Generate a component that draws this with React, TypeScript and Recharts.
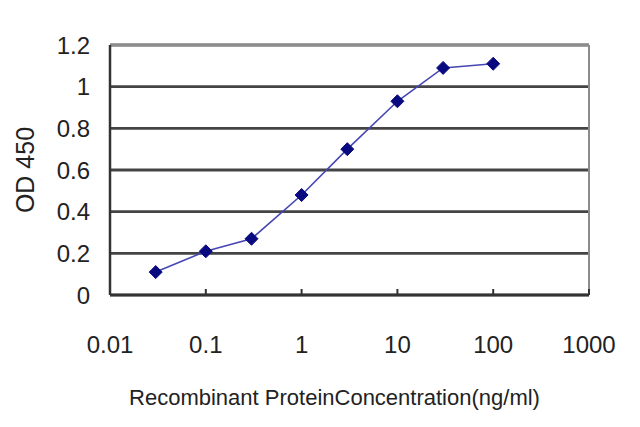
import React from 'react';
import { LineChart, Line, XAxis, YAxis, CartesianGrid, ReferenceLine, Label } from 'recharts';

const concentrations = [0.03, 0.1, 0.3, 1, 3, 10, 30, 100];
const od450 = [0.11, 0.21, 0.27, 0.48, 0.7, 0.93, 1.09, 1.11];
const xTicks = [0.01, 0.1, 1, 10, 100, 1000];
const yTicks = [0, 0.2, 0.4, 0.6, 0.8, 1, 1.2];
const xTitle = 'Recombinant ProteinConcentration(ng/ml)';
const yTitle = 'OD 450';

const data = concentrations.map((c, i) => ({ conc: c, od: od450[i] }));

const FONT = 'Liberation Sans, Arial, sans-serif';

const XTick = (props: any) => {
  const { x, y, payload } = props;
  return (
    <g>
      <line x1={x} x2={x} y1={y} y2={y - 6} stroke="#333" strokeWidth={2} />
      <text x={x} y={y + 58} textAnchor="middle" fontSize={24} fill="#222" fontFamily={FONT}>
        {String(payload.value)}
      </text>
    </g>
  );
};

const Diamond = (props: any) => {
  const { cx, cy, index } = props;
  if (cx == null || cy == null) return <g key={`d${index}`} />;
  const s = 6.5;
  return (
    <path
      key={`d${index}`}
      d={`M${cx},${cy - s}L${cx + s},${cy}L${cx},${cy + s}L${cx - s},${cy}Z`}
      fill="#0a0a80"
      stroke="#0a0a80"
    />
  );
};

export default function App() {
  return (
    <div style={{ position: 'absolute', left: 0, top: 0, width: 640, height: 427, background: '#fff' }}>
      <LineChart width={640} height={427} data={data} margin={{ top: 45, right: 51, left: 0, bottom: 0 }}>
        <CartesianGrid horizontal vertical={false} stroke="#444" strokeWidth={2.8} />
        <XAxis
          dataKey="conc"
          type="number"
          scale="log"
          domain={[0.01, 1000]}
          ticks={xTicks}
          allowDataOverflow
          height={132}
          tickSize={0}
          tickMargin={0}
          tickLine={false}
          tick={<XTick />}
          axisLine={{ stroke: '#333', strokeWidth: 2.5 }}
          interval={0}
        >
          <Label
            content={(p: any) => {
              const vb = p.viewBox;
              const cx = vb.x + vb.width / 2 - 15;
              return (
                <text x={cx} y={405} textAnchor="middle" fontSize={22} fill="#222" fontFamily={FONT}>
                  {xTitle}
                </text>
              );
            }}
          />
        </XAxis>
        <YAxis
          type="number"
          domain={[0, 1.2]}
          ticks={yTicks}
          width={110}
          tickSize={0}
          tickMargin={20}
          tickLine={false}
          interval={0}
          tick={{ fontSize: 24, fill: '#222', fontFamily: FONT }}
          axisLine={{ stroke: '#333', strokeWidth: 2.5 }}
        >
          <Label
            content={(p: any) => {
              const vb = p.viewBox;
              const cx = 25;
              const cy = vb.y + vb.height / 2;
              return (
                <text
                  x={cx}
                  y={cy}
                  transform={`rotate(-90 ${cx} ${cy})`}
                  textAnchor="middle"
                  dominantBaseline="central"
                  fontSize={25}
                  fill="#222"
                  fontFamily={FONT}
                >
                  {yTitle}
                </text>
              );
            }}
          />
        </YAxis>
        <ReferenceLine y={1.2} stroke="#8c8c8c" strokeWidth={2} />
        <ReferenceLine x={1000} stroke="#8c8c8c" strokeWidth={2} />
        <Line
          dataKey="od"
          stroke="#4646b4"
          strokeWidth={1.6}
          dot={Diamond}
          activeDot={false}
          isAnimationActive={false}
        />
      </LineChart>
    </div>
  );
}
